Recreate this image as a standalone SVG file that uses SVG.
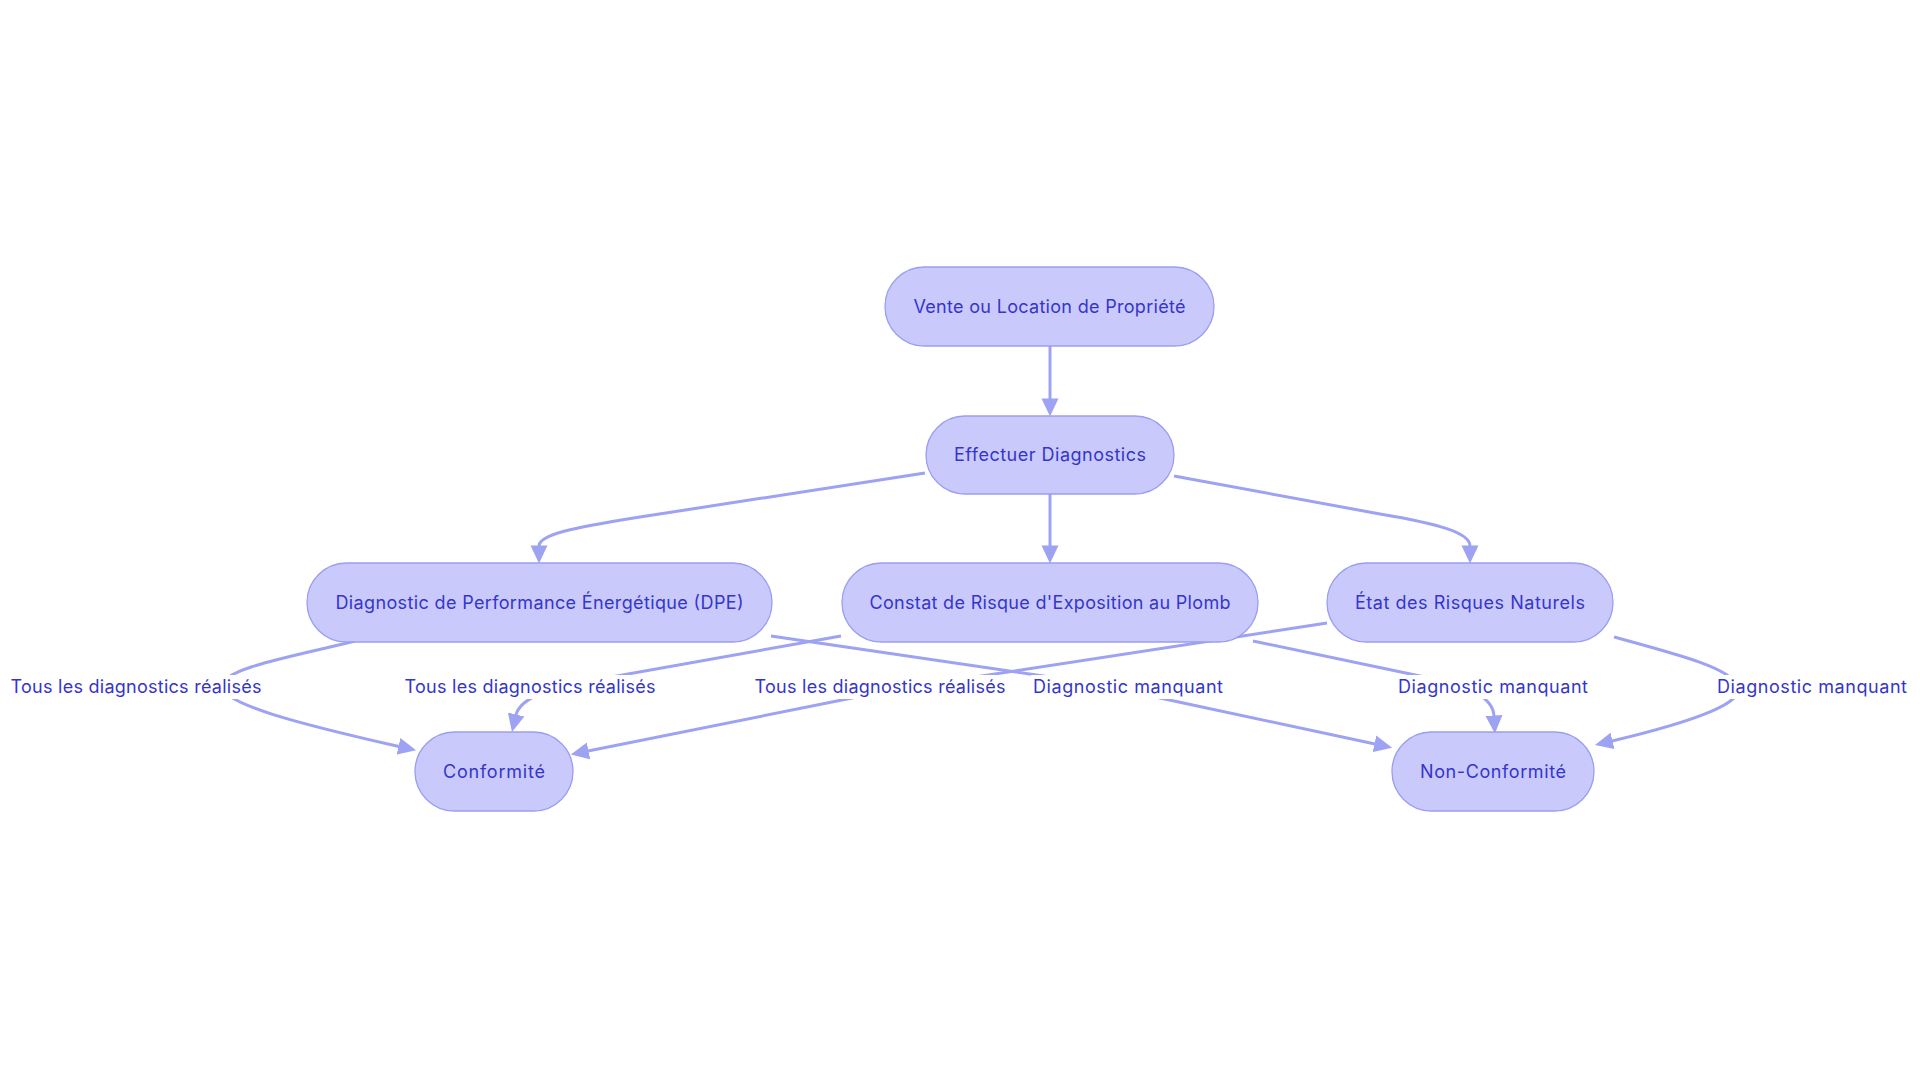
<svg xmlns="http://www.w3.org/2000/svg" width="1920" height="1083" viewBox="0 0 1920 1083">
<defs>
<style>
.node rect{fill:#c9cafb;stroke:#9a9ef0;stroke-width:1.3}
.node text,.lbl text{font-family:Inter,"Open Sans","Liberation Sans",sans-serif;font-size:18px;fill:#3535cc;text-anchor:middle}
.edge{fill:none;stroke:#9da2f2;stroke-width:3}
.lbl rect{fill:#ffffff}
</style>
<marker id="arr" markerUnits="userSpaceOnUse" markerWidth="18" markerHeight="18" viewBox="0 0 17 17" refX="0.5" refY="8.5" orient="auto">
<path d="M0,0.5 L17,8.5 L0,16.5 z" fill="#9da2f2"/>
</marker>
</defs>
<rect width="1920" height="1083" fill="#ffffff"/>
<g id="connectors">
<path class="edge" marker-end="url(#arr)" d="M1050,346 L1050,399"/>
<path class="edge" marker-end="url(#arr)" d="M925,473 L640,517 C570,528 539,535 539,546"/>
<path class="edge" marker-end="url(#arr)" d="M1050,494 L1050,546"/>
<path class="edge" marker-end="url(#arr)" d="M1174,476 L1380,514 C1440,524 1470,533 1470,546"/>
<path class="edge" marker-end="url(#arr)" d="M355,641 C300,655 222,668 222,686 C222,704 300,724 399,746.5"/>
<path class="edge" marker-end="url(#arr)" d="M771,636 L1050,677 C1100,684 1140,692 1160,698 L1375,744"/>
<path class="edge" marker-end="url(#arr)" d="M841,636 L600,679 C548,688 520,698 516,715"/>
<path class="edge" marker-end="url(#arr)" d="M1253,641 L1420,676 C1470,686 1493,697 1494,716"/>
<path class="edge" marker-end="url(#arr)" d="M1327,623 L975,677 C930,684 880,690 852,698 L588,751"/>
<path class="edge" marker-end="url(#arr)" d="M1614,637 C1680,655 1730,668 1738,686 C1745,702 1700,720 1612,741"/>
</g>
<g id="labels">
<g class="lbl"><rect x="9" y="675" width="255" height="24"/><text x="136" y="693" textLength="251">Tous les diagnostics réalisés</text></g>
<g class="lbl"><rect x="403" y="675" width="255" height="24"/><text x="530" y="693" textLength="251">Tous les diagnostics réalisés</text></g>
<g class="lbl"><rect x="752" y="675" width="257" height="24"/><text x="880" y="693" textLength="251">Tous les diagnostics réalisés</text></g>
<g class="lbl"><rect x="1031" y="675" width="194" height="24"/><text x="1128" y="693" textLength="190">Diagnostic manquant</text></g>
<g class="lbl"><rect x="1395" y="675" width="195" height="24"/><text x="1493" y="693" textLength="190">Diagnostic manquant</text></g>
<g class="lbl"><rect x="1715" y="675" width="195" height="24"/><text x="1812" y="693" textLength="190">Diagnostic manquant</text></g>
</g>
<g id="n_vente" class="node"><rect x="885" y="267" width="329" height="79" rx="39.5"/><text x="1049.5" y="313" textLength="272">Vente ou Location de Propriété</text></g>
<g id="n_diag" class="node"><rect x="926" y="416" width="248" height="78" rx="39"/><text x="1050" y="461" textLength="192">Effectuer Diagnostics</text></g>
<g id="n_dpe" class="node"><rect x="307" y="563" width="465" height="79" rx="39.5"/><text x="539.5" y="609" textLength="408">Diagnostic de Performance Énergétique (DPE)</text></g>
<g id="n_plomb" class="node"><rect x="842" y="563" width="416" height="79" rx="39.5"/><text x="1050" y="609" textLength="361">Constat de Risque d'Exposition au Plomb</text></g>
<g id="n_ern" class="node"><rect x="1327" y="563" width="286" height="79" rx="39.5"/><text x="1470" y="609" textLength="230">État des Risques Naturels</text></g>
<g id="n_conf" class="node"><rect x="415" y="732" width="158" height="79" rx="39.5"/><text x="494" y="778" textLength="102">Conformité</text></g>
<g id="n_nonconf" class="node"><rect x="1392" y="732" width="202" height="79" rx="39.5"/><text x="1493" y="778" textLength="146">Non-Conformité</text></g>
</svg>
